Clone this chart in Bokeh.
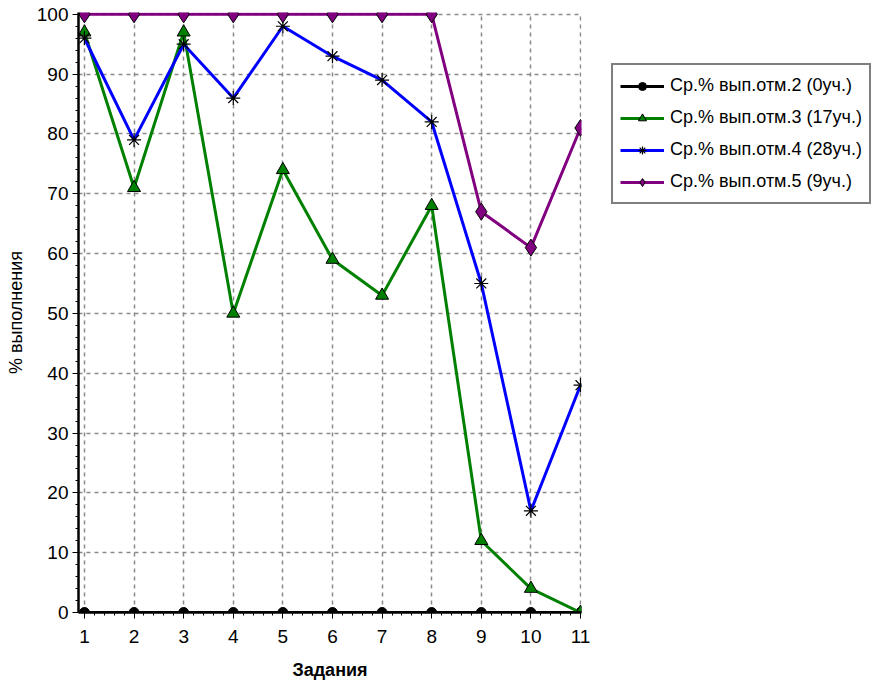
from bokeh.plotting import figure
from bokeh.models import Legend, LegendItem, SingleIntervalTicker, Range1d
from bokeh.embed import file_html
from bokeh.resources import INLINE

tasks = [1, 2, 3, 4, 5, 6, 7, 8, 9, 10, 11]
mark2 = [0, 0, 0, 0, 0, 0, 0, 0, 0, 0, 0]
mark3 = [97, 71, 97, 50, 74, 59, 53, 68, 12, 4, 0]
mark4 = [96, 79, 95, 86, 98, 93, 89, 82, 55, 17, 38]
mark5 = [100, 100, 100, 100, 100, 100, 100, 100, 67, 61, 81]
labels = ["Ср.% вып.отм.2 (0уч.)", "Ср.% вып.отм.3 (17уч.)",
          "Ср.% вып.отм.4 (28уч.)", "Ср.% вып.отм.5 (9уч.)"]

FONT = "Liberation Sans"

p = figure(frame_width=503, frame_height=600, output_backend="svg", toolbar_location=None,
           x_range=Range1d(0.88, 11.02), y_range=Range1d(0, 100.3))
p.min_border_left = 78
p.min_border_right = 289
p.min_border_top = 12
p.min_border_bottom = 72
p.outline_line_color = None

for g in (p.xgrid, p.ygrid):
    g.grid_line_color = "#8a8a8a"
    g.grid_line_dash = "4 4"
    g.grid_line_width = 1.5

p.xaxis.ticker = SingleIntervalTicker(interval=1, num_minor_ticks=5)
p.yaxis.ticker = SingleIntervalTicker(interval=10, num_minor_ticks=5)
p.xgrid.ticker = SingleIntervalTicker(interval=1)
p.ygrid.ticker = SingleIntervalTicker(interval=10)

for ax in (p.xaxis, p.yaxis):
    ax.axis_line_width = 2.5
    ax.axis_line_color = "black"
    ax.major_tick_line_color = "black"
    ax.minor_tick_line_color = "black"
    ax.major_tick_in = 0
    ax.major_tick_out = 6
    ax.minor_tick_in = 0
    ax.minor_tick_out = 3
    ax.major_label_text_font = FONT
    ax.major_label_text_font_size = "19px"
    ax.major_label_text_color = "black"
    ax.axis_label_text_color = "black"

p.xaxis.axis_label = "Задания"
p.xaxis.axis_label_text_font = FONT
p.xaxis.axis_label_text_font_style = "bold"
p.xaxis.axis_label_text_font_size = "18px"
p.xaxis.axis_label_standoff = 14
p.xaxis.major_label_standoff = 11

p.yaxis.axis_label = "% выполнения"
p.yaxis.axis_label_text_font = FONT
p.yaxis.axis_label_text_font_style = "normal"
p.yaxis.axis_label_text_font_size = "18px"
p.yaxis.axis_label_standoff = 8
p.yaxis.major_label_standoff = 4

r2l = p.line(tasks, mark2, line_color="black", line_width=3)
r2m = p.scatter(tasks, mark2, marker="circle", size=10, fill_color="black", line_color="black")

r3l = p.line(tasks, mark3, line_color="#008000", line_width=3)
r3m = p.scatter(tasks, mark3, marker="triangle", size=13, fill_color="#008000", line_color="black")

r4l = p.line(tasks, mark4, line_color="#0000ff", line_width=3)
r4m = p.scatter(tasks, mark4, marker="asterisk", size=14, line_color="black", line_width=1.2)

r5l = p.line(tasks, mark5, line_color="#800080", line_width=3)
r5m = p.scatter(tasks, mark5, marker="diamond", size=17, fill_color="#800080", line_color="black")

legend = Legend(items=[
    LegendItem(label=labels[0], renderers=[r2l, r2m]),
    LegendItem(label=labels[1], renderers=[r3l, r3m]),
    LegendItem(label=labels[2], renderers=[r4l, r4m]),
    LegendItem(label=labels[3], renderers=[r5l, r5m]),
], location=(30, 408))
legend.label_text_font = FONT
legend.label_text_font_size = "18px"
legend.label_text_color = "black"
legend.border_line_color = "black"
legend.border_line_width = 2
legend.background_fill_alpha = 1
legend.glyph_width = 44
legend.spacing = 5
legend.padding = 7
legend.margin = 0
legend.label_standoff = 6
legend.label_height = 27
p.add_layout(legend, "right")

open("out.html", "w").write(file_html(p, INLINE))
